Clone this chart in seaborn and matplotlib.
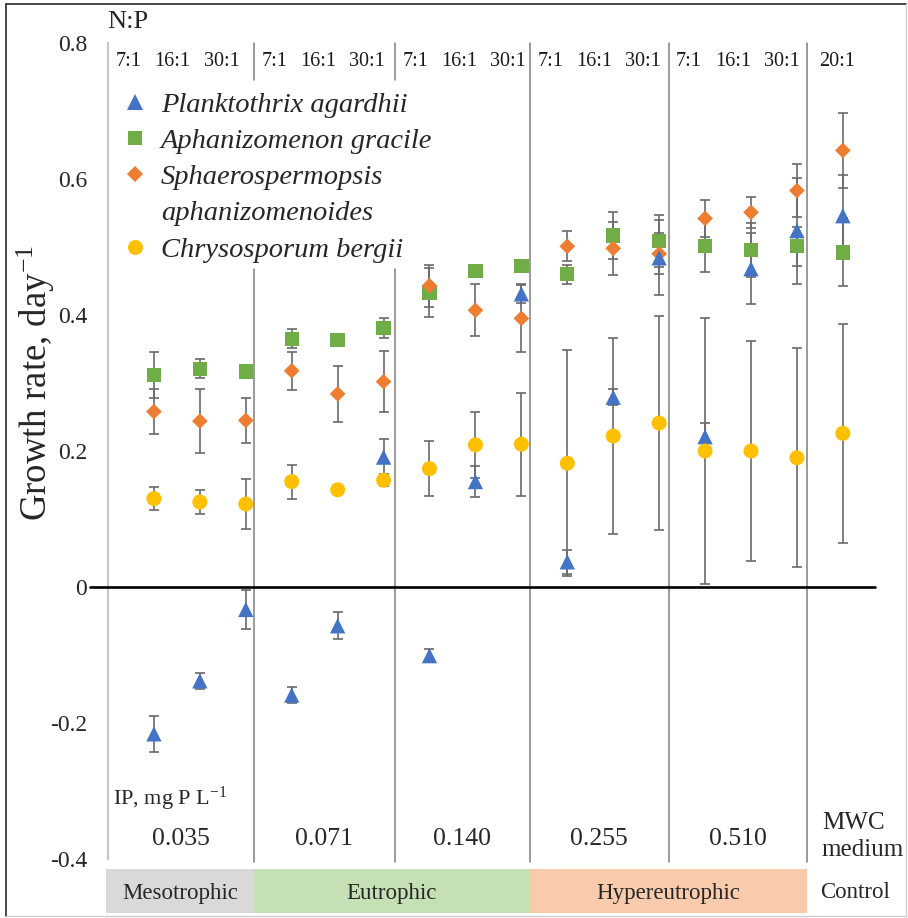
import numpy as np
import pandas as pd
import matplotlib
matplotlib.use("Agg")
import matplotlib.pyplot as plt
import matplotlib.transforms as mtransforms
from matplotlib.lines import Line2D
from matplotlib.patches import Rectangle
import seaborn as sns

# ---------------- data ----------------
species = ["Planktothrix agardhii", "Aphanizomenon gracile",
           "Sphaerospermopsis aphanizomenoides", "Chrysosporum bergii"]
np_ratios = ["7:1", "16:1", "30:1"] * 5 + ["20:1"]
ip_labels = ["0.035", "0.071", "0.140", "0.255", "0.510"]
trophic_labels = ["Mesotrophic", "Eutrophic", "Hypereutrophic", "Control"]

planktothrix = [-0.216, -0.138, -0.033, -0.159, -0.057, 0.191, -0.101, 0.155,
                0.431, 0.037, 0.279, 0.484, 0.221, 0.468, 0.524, 0.546]
planktothrix_err = [0.026, 0.012, 0.029, 0.012, 0.020, 0.026, 0.010, 0.023,
                    0.013, 0.018, 0.012, 0.055, 0.020, 0.052, 0.078, 0.060]
aphanizomenon = [0.312, 0.321, 0.317, 0.365, 0.363, 0.381, 0.433, 0.465,
                 0.472, 0.460, 0.517, 0.509, 0.501, 0.496, 0.501, 0.492]
aphanizomenon_err = [0.034, 0.014, 0.004, 0.014, 0.004, 0.015, 0.036, 0.004,
                     0.005, 0.014, 0.035, 0.038, 0.038, 0.040, 0.029, 0.050]
sphaerospermopsis = [0.258, 0.244, 0.245, 0.318, 0.284, 0.302, 0.443, 0.407,
                     0.395, 0.501, 0.498, 0.490, 0.542, 0.551, 0.583, 0.642]
sphaerospermopsis_err = [0.033, 0.047, 0.033, 0.028, 0.041, 0.045, 0.031, 0.038,
                         0.050, 0.022, 0.039, 0.030, 0.027, 0.023, 0.039, 0.055]
chrysosporum = [0.130, 0.125, 0.122, 0.155, 0.143, 0.157, 0.174, 0.209,
                0.210, 0.182, 0.222, 0.241, 0.200, 0.200, 0.190, 0.226]
chrysosporum_err = [0.017, 0.017, 0.037, 0.025, 0.005, 0.009, 0.040, 0.049,
                    0.076, 0.166, 0.144, 0.157, 0.196, 0.162, 0.161, 0.161]

values = {species[0]: (planktothrix, planktothrix_err),
          species[1]: (aphanizomenon, aphanizomenon_err),
          species[2]: (sphaerospermopsis, sphaerospermopsis_err),
          species[3]: (chrysosporum, chrysosporum_err)}

# ---------------- style ----------------
colors = {species[0]: "#4472C4", species[1]: "#70AD47",
          species[2]: "#ED7D31", species[3]: "#FFC000"}
markers = {species[0]: "^", species[1]: "s", species[2]: "D", species[3]: "o"}
msize = {species[0]: 11.0, species[1]: 10.3, species[2]: 8.0, species[3]: 10.8}
draw_order = [species[1], species[2], species[0], species[3]]

sns.set_style("white")
plt.rcParams["font.family"] = ["Liberation Serif", "DejaVu Serif"]
plt.rcParams["mathtext.fontset"] = "custom"
plt.rcParams["mathtext.rm"] = "Liberation Serif"
plt.rcParams["mathtext.it"] = "Liberation Serif:italic"
plt.rcParams["mathtext.bf"] = "Liberation Serif:bold"

W, H = 908, 918
fig = plt.figure(figsize=(W / 100, H / 100), dpi=100)
ax = fig.add_axes([108 / W, 59 / H, 767 / W, 816 / H])

positions = np.arange(len(np_ratios))
rows = []
for sp in draw_order:
    v, e = values[sp]
    for p, val in zip(positions, v):
        rows.append({"pos": p, "rate": val, "species": sp})
df = pd.DataFrame(rows)

# error bars (under markers)
for sp in draw_order:
    v, e = values[sp]
    ax.errorbar(positions, v, yerr=e, fmt="none", ecolor="#6a6a6a",
                elinewidth=1.2, capsize=3.8, capthick=1.2, zorder=2)

sns.scatterplot(data=df, x="pos", y="rate", hue="species", style="species",
                size="species", palette=colors, markers=markers,
                sizes={k: v ** 2 for k, v in msize.items()},
                linewidth=0, legend=False, ax=ax, zorder=4)

ax.set_xlim(-1.0, 15.7)
ax.set_ylim(-0.4, 0.8)
ax.set_xlabel("")
ax.set_ylabel("")
ax.set_xticks([])
yt = [-0.4, -0.2, 0, 0.2, 0.4, 0.6, 0.8]
ax.set_yticks(yt)
ax.set_yticklabels([("%g" % t) if t != 0 else "0" for t in yt],
                   fontsize=17, color="#262626")
ax.tick_params(axis="y", length=0, pad=15)
for s in ["top", "right", "bottom"]:
    ax.spines[s].set_visible(False)
ax.spines["left"].set_color("#c8c8c8")
ax.spines["left"].set_linewidth(1.6)
ax.set_facecolor("white")

# zero line
ax.plot([-1.39, 15.7], [0, 0], color="black", lw=1.9, zorder=3, clip_on=False)

# group separators
separators = [2.177, 5.247, 8.186, 11.21, 14.217]
for i, sx in enumerate(separators):
    if i < 2:
        ax.plot([sx, sx], [-0.405, 0.468], color="#7f7f7f", lw=1.1, zorder=1, clip_on=False)
        ax.plot([sx, sx], [0.745, 0.8], color="#7f7f7f", lw=1.1, zorder=1, clip_on=False)
    else:
        ax.plot([sx, sx], [-0.405, 0.8], color="#7f7f7f", lw=1.1, zorder=1, clip_on=False)

# header N:P labels
bounds = [-1.0] + separators
hdr_off = [0.44, 1.40, 2.47]
for g in range(5):
    for k in range(3):
        ax.text(bounds[g] + hdr_off[k], 0.7735, np_ratios[g * 3 + k],
                ha="center", va="center", fontsize=14.5, color="#1a1a1a")
ax.text(14.87, 0.7735, np_ratios[15], ha="center", va="center",
        fontsize=14.5, color="#1a1a1a")
fig.text(107 / W, 1 - 22 / H, "N:P", ha="left", va="center", fontsize=19)

# IP labels
ax.text(-0.893, -0.312, "IP, mg P L$^{-1}$", ha="left", va="center", fontsize=16)
for g in range(5):
    ax.text((bounds[g] + bounds[g + 1]) / 2, -0.371, ip_labels[g],
            ha="center", va="center", fontsize=18.5)
ax.text(14.54, -0.367, "MWC\nmedium", ha="left", va="center",
        fontsize=18, linespacing=1.3)

# trophic band
bt = mtransforms.blended_transform_factory(ax.transData, fig.transFigure)
band_y0, band_y1 = 5 / H, 49 / H
band_edges = [-1.04, 2.177, 8.186, 14.217]
band_colors = ["#d9d9d9", "#c5e0b4", "#f8cbad"]
for i in range(3):
    fig.patches.append(Rectangle((band_edges[i], band_y0), band_edges[i + 1] - band_edges[i],
                                 band_y1 - band_y0, transform=bt, facecolor=band_colors[i],
                                 edgecolor="none", zorder=0))
    fig.text((band_edges[i] + band_edges[i + 1]) / 2, 25 / H, trophic_labels[i],
             transform=bt, ha="center", va="center", fontsize=16.5)
fig.text(15.26, 25 / H, trophic_labels[3], transform=bt, ha="center",
         va="center", fontsize=16.5)

# y label
fig.text(36 / W, 1 - 383 / H, "Growth rate, day$^{-1}$", rotation=90,
         ha="center", va="center", fontsize=26.5)

# legend
handles, labels = [], []
for sp in species:
    h = Line2D([], [], marker=markers[sp], color=colors[sp], linestyle="none",
               markersize=msize[sp], markeredgewidth=0)
    parts = sp.split(" ")
    if sp == species[2]:
        handles += [h, Line2D([], [], linestyle="none")]
        labels += [parts[0], parts[1]]
    else:
        handles.append(h)
        labels.append(sp)
leg = ax.legend(handles, labels, loc="upper left", bbox_to_anchor=(121 / W, 1 - 92 / H),
                bbox_transform=fig.transFigure, frameon=True, facecolor="white",
                edgecolor="none", framealpha=1, borderpad=0, handlelength=1.0,
                handletextpad=0.4, labelspacing=0.36, borderaxespad=0,
                prop={"family": "Liberation Serif", "style": "italic", "size": 20.5})
leg.set_zorder(5)

# outer frame
fig.lines.append(Line2D([6 / W, 6 / W], [1 - 4 / H, 1 - 916 / H], transform=fig.transFigure, color="#3a3a3a", lw=1.3))
fig.lines.append(Line2D([6 / W, 906 / W], [1 - 4 / H, 1 - 4 / H], transform=fig.transFigure, color="#3a3a3a", lw=1.3))
fig.lines.append(Line2D([906 / W, 906 / W], [1 - 4 / H, 1 - 916 / H], transform=fig.transFigure, color="#cfcfcf", lw=1.0))
fig.lines.append(Line2D([6 / W, 906 / W], [1 - 916 / H, 1 - 916 / H], transform=fig.transFigure, color="#cfcfcf", lw=1.0))

fig.savefig("out.png", dpi=100, facecolor="white")
